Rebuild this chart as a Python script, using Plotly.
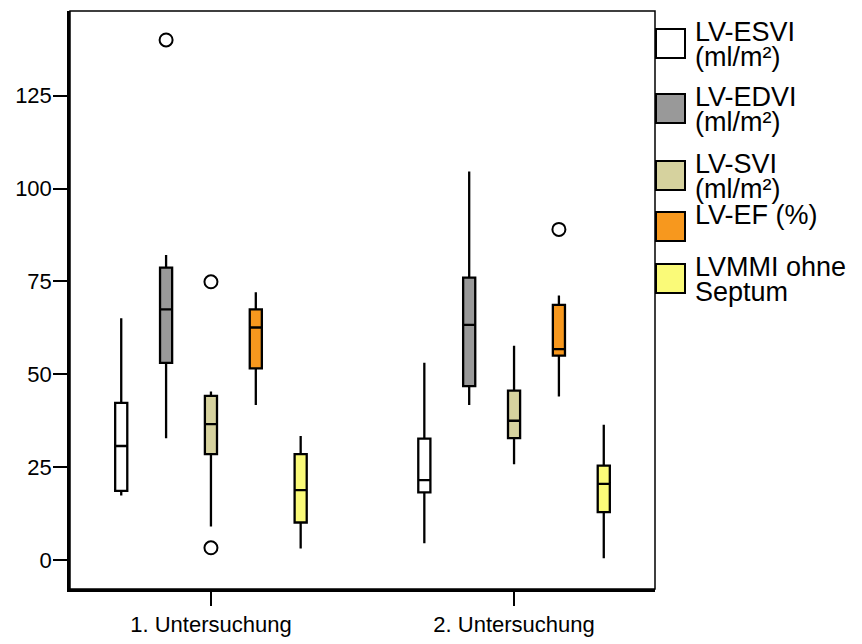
import plotly.graph_objects as go

# Two examinations, five cardiac parameters per examination
categories = ["1. Untersuchung", "2. Untersuchung"]

series_names = ["LV-ESVI (ml/m²)", "LV-EDVI (ml/m²)", "LV-SVI (ml/m²)", "LV-EF (%)", "LVMMI ohne Septum"]
legend_lines = [
    ["LV-ESVI", "(ml/m²)"],
    ["LV-EDVI", "(ml/m²)"],
    ["LV-SVI", "(ml/m²)"],
    ["LV-EF (%)"],
    ["LVMMI ohne", "Septum"],
]
fill_colors = ["#ffffff", "#999999", "#d6d29e", "#f7981e", "#fafa78"]

# Box statistics per series: [1. Untersuchung, 2. Untersuchung]
lower_whisker = [[17.4, 4.5], [32.8, 41.7], [9.0, 25.8], [41.7, 44.0], [3.1, 0.5]]
q1_values = [[18.6, 18.2], [53.1, 46.8], [28.5, 32.8], [51.6, 55.0], [10.1, 12.9]]
medians = [[30.7, 21.5], [67.5, 63.3], [36.6, 37.5], [62.6, 56.8], [18.8, 20.5]]
q3_values = [[42.3, 32.7], [78.7, 76.0], [44.2, 45.6], [67.5, 68.7], [28.5, 25.4]]
upper_whisker = [[65.1, 53.1], [82.1, 104.6], [45.4, 57.7], [72.1, 71.2], [33.4, 36.4]]
outliers = [[[], []], [[140.0], []], [[74.9, 3.3], []], [[], [89.0]], [[], []]]

y_ticks = [0, 25, 50, 75, 100, 125]

FONT = "Liberation Sans, Arial, Helvetica, sans-serif"

# Plot-area geometry in pixels (used for the hand-drawn legend)
W_FIG, H_FIG = 862, 644
M_L, M_R, M_T, M_B = 70, 207, 11, 55
PW = W_FIG - M_L - M_R
PH = H_FIG - M_T - M_B


def px_x(px):
    return (px - M_L) / PW


def px_y(py):
    return (H_FIG - M_B - py) / PH


fig = go.Figure()

for i, name in enumerate(series_names):
    # sample points per box: the extreme values at the whisker ends plus any outliers
    samples = [
        [lower_whisker[i][k], upper_whisker[i][k]] + outliers[i][k]
        for k in range(len(categories))
    ]
    fig.add_trace(go.Box(
        name=name,
        x=categories,
        y=samples,
        q1=q1_values[i],
        median=medians[i],
        q3=q3_values[i],
        lowerfence=lower_whisker[i],
        upperfence=upper_whisker[i],
        boxpoints="outliers",
        jitter=0,
        pointpos=0,
        whiskerwidth=0,
        fillcolor=fill_colors[i],
        line=dict(color="black", width=2.3),
        marker=dict(symbol="circle-open", size=13, color="black", line=dict(width=2)),
        showlegend=False,
    ))

# Thin frame around the plotting area
fig.add_shape(type="rect", xref="paper", yref="paper", x0=0, y0=0, x1=1, y1=1,
              line=dict(color="black", width=1.5), layer="below")

# Legend: square swatches with text lines beside them
LEG_FONT = 27
swatch_tops = [29, 94, 161, 212, 264]
for i, lines in enumerate(legend_lines):
    top = swatch_tops[i]
    fig.add_shape(type="rect", xref="paper", yref="paper",
                  x0=px_x(656), x1=px_x(685), y0=px_y(top + 29), y1=px_y(top),
                  fillcolor=fill_colors[i], line=dict(color="black", width=2))
    for j, txt in enumerate(lines):
        baseline = top + 12 + 25 * j
        fig.add_annotation(xref="paper", yref="paper", x=px_x(694), y=px_y(baseline - 9.4),
                           xanchor="left", yanchor="middle", text=txt, showarrow=False,
                           borderpad=0,
                           font=dict(family=FONT, size=LEG_FONT, color="black"))

fig.update_layout(
    width=W_FIG, height=H_FIG,
    margin=dict(l=M_L, r=M_R, t=M_T, b=M_B, autoexpand=False),
    paper_bgcolor="white", plot_bgcolor="white",
    boxmode="group", boxgap=0.26, boxgroupgap=0.73,
    font=dict(family=FONT, size=22, color="black"),
    showlegend=False,
)

fig.update_xaxes(
    type="category", range=[-0.465, 1.465], automargin=False,
    showgrid=False, zeroline=False,
    showline=True, linecolor="black", linewidth=3,
    ticks="outside", ticklen=14, tickwidth=2, tickcolor="black",
    tickfont=dict(size=22),
)
fig.update_yaxes(
    range=[-7.8, 147.8], tickvals=y_ticks, automargin=False,
    showgrid=False, zeroline=False,
    showline=True, linecolor="black", linewidth=2.5,
    ticks="outside", ticklen=14, tickwidth=2, tickcolor="black",
    tickfont=dict(size=22), ticklabelstandoff=-3,
)

fig.write_html("out.html")
